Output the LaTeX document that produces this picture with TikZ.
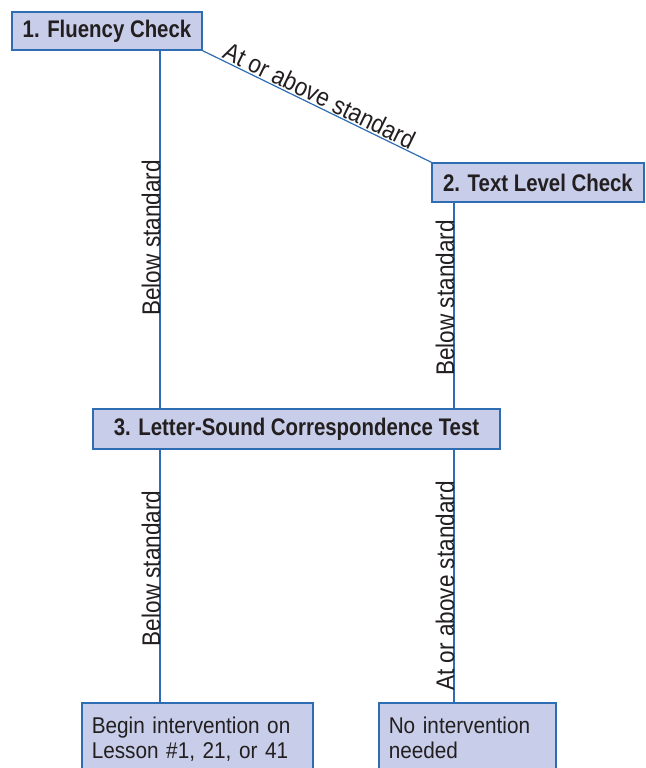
\documentclass[tikz,border=0pt]{standalone}
\usepackage{fontspec}
\setmainfont{Liberation Sans}
\newfontfamily\condfont[FakeStretch=0.85]{Liberation Sans}
\newfontfamily\labelfont[FakeStretch=0.885]{Liberation Sans}
\newfontfamily\notefont[FakeStretch=0.91]{Liberation Sans}
\definecolor{boxfill}{HTML}{C8CEE9}
\definecolor{boxline}{HTML}{2E6DB4}
\definecolor{ink}{HTML}{231F20}
\tikzset{
  stepbox/.style={draw=boxline, fill=boxfill, line width=1.5pt, text=ink,
    font=\condfont\bfseries\fontsize{24}{28}\selectfont, inner sep=0pt},
  outcome/.style={draw=boxline, fill=boxfill, line width=1.5pt, text=ink,
    font=\notefont\fontsize{22.8}{25.5}\selectfont, align=left, anchor=north west,
    inner xsep=10pt, inner ysep=14pt},
  link/.style={draw=boxline, line width=1.2pt},
  vlabel/.style={rotate=90, anchor=base, inner sep=0pt, text=ink,
    font=\labelfont\fontsize{25.5}{29}\selectfont, xshift=-3pt},
  dlabel/.style={sloped, above=1pt, inner sep=0pt, text=ink,
    font=\labelfont\fontsize{25.5}{29}\selectfont}
}
\begin{document}
\begin{tikzpicture}[x=1pt, y=-1pt]
\useasboundingbox (0,0) rectangle (645,768);

% decision steps
\node[stepbox, minimum width=190pt, minimum height=38pt] (fluency) at (107,31) {1. Fluency Check};
\node[stepbox, minimum width=212pt, minimum height=39pt] (textlevel) at (538,182.5) {2. Text Level Check};
\node[stepbox, minimum width=407pt, minimum height=40pt] (lettersound) at (296.5,429) {3. Letter-Sound Correspondence Test};

% outcomes
\node[outcome, text width=211pt] (begin) at (81,702) {Begin intervention on\\Lesson \#1, 21, or 41};
\node[outcome, text width=157pt] (none) at (378,702) {No intervention\\needed};

% connector columns
\coordinate (colA) at (160,0);
\coordinate (colB) at (454,0);

\draw[link] (fluency.south -| colA) -- node[vlabel, pos=0.515] {Below standard} (lettersound.north -| colA);
\draw[link] (fluency.south east) -- node[dlabel, pos=0.49] {At or above standard} (textlevel.north west);
\draw[link] (textlevel.south -| colB) -- node[vlabel, pos=0.449] {Below standard} (lettersound.north -| colB);
\draw[link] (lettersound.south -| colA) -- node[vlabel, pos=0.458] {Below standard} (begin.north -| colA);
\draw[link] (lettersound.south -| colB) -- node[vlabel, pos=0.528] {At or above standard} (none.north -| colB);
\end{tikzpicture}
\end{document}
